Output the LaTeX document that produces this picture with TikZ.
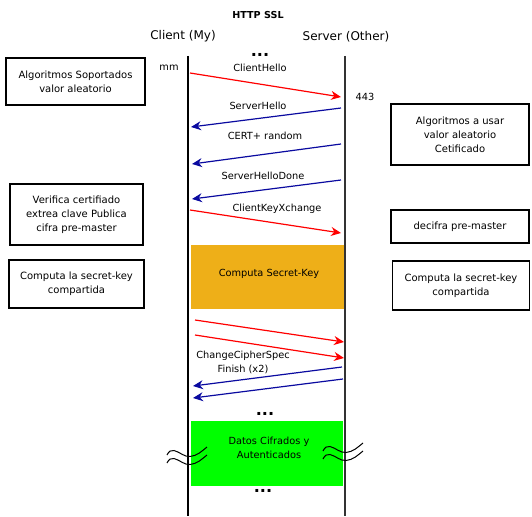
\documentclass[tikz,border=0pt]{standalone}
\usepackage{fontspec}
\setmainfont{DejaVu Sans}
\usetikzlibrary{positioning,arrows.meta}
\definecolor{msgred}{RGB}{255,0,0}
\definecolor{msgblue}{RGB}{10,10,160}
\definecolor{keyorange}{RGB}{238,175,24}
\definecolor{datagreen}{RGB}{0,255,0}

\begin{document}
\begin{tikzpicture}[x=1pt, y=-1pt,
    note/.style={rectangle, draw, line width=1.5pt, align=center, inner sep=0pt, font=\fontsize{10}{14}\selectfont},
    lbl/.style={inner sep=0pt, align=center, font=\fontsize{9.8}{14}\selectfont},
    dots/.style={inner sep=0pt, font=\bfseries\fontsize{16}{16}\selectfont},
    phase/.style={rectangle, fill=#1, inner sep=0pt, align=center},
    tosrv/.style={msgred, line width=1.2pt, -{Stealth[length=10pt, width=9pt]}},
    tocli/.style={msgblue, line width=1.2pt, -{Stealth[length=10pt, width=9pt]}}
]
    \useasboundingbox (0,0) rectangle (532,516);

    % titles
    \node[inner sep=0pt, font=\bfseries\fontsize{9.6}{11}\selectfont] (title) at (258,15) {HTTP SSL};
    \node[inner sep=0pt, font=\fontsize{12}{14}\selectfont] (client) at (183,36) {Client (My)};
    \node[inner sep=0pt, font=\fontsize{12}{14}\selectfont] (server) at (346,37) {Server (Other)};
    \node[dots] (dots1) at (260,55) {...};

    % lifelines
    \coordinate (ctop) at (188,56);
    \coordinate (cbot) at (188,516);
    \coordinate (stop) at (345,56);
    \coordinate (sbot) at (345,516);
    \draw[line width=2pt] (ctop) -- (cbot);
    \draw[line width=1.2pt, black!80] (stop) -- (sbot);

    % phases
    \node[phase=keyorange, minimum width=153pt, minimum height=64pt] (secret) at (267.5,277) {};
    \node[lbl] at (269,274) {Computa Secret-Key};
    \node[phase=datagreen, minimum width=152pt, minimum height=65pt] (data) at (267,453.5) {};
    \node[lbl] at (269,448) {Datos Cifrados y\\Autenticados};

    % notes
    \node[note, minimum width=139pt, minimum height=47pt] (alg) at (75.5,81.5) {Algoritmos Soportados\\valor aleatorio};
    \node[note, minimum width=138pt, minimum height=61pt] (usar) at (460,134.5) {Algoritmos a usar\\valor aleatorio\\Cetificado};
    \node[note, minimum width=133pt, minimum height=61pt] (verif) at (76.5,214.5) {Verifica certifiado\\extrea clave Publica\\cifra pre-master};
    \node[note, minimum width=138pt, minimum height=33pt] (decif) at (460,226.5) {decifra pre-master};
    \node[note, minimum width=135pt, minimum height=48pt] (compc) at (76.5,284) {Computa la secret-key\\compartida};
    \node[note, minimum width=137pt, minimum height=49pt] (comps) at (461,285.5) {Computa la secret-key\\compartida};

    % messages
    \coordinate (ch1) at (190,73);  \coordinate (ch2) at (341,97);
    \coordinate (sh1) at (341,108); \coordinate (sh2) at (191,127);
    \coordinate (ce1) at (341,144); \coordinate (ce2) at (192,164);
    \coordinate (sd1) at (341,180); \coordinate (sd2) at (192,199);
    \coordinate (kx1) at (190,210); \coordinate (kx2) at (341,233);
    \coordinate (fa1) at (195,320); \coordinate (fa2) at (344,342);
    \coordinate (fb1) at (195,335); \coordinate (fb2) at (344,358);
    \coordinate (fc1) at (342,367); \coordinate (fc2) at (193,386);
    \coordinate (fd1) at (343,379); \coordinate (fd2) at (193,398);

    \foreach \from/\to in {ch1/ch2, kx1/kx2, fa1/fa2, fb1/fb2}
        \draw[tosrv] (\from) -- (\to);
    \foreach \from/\to in {sh1/sh2, ce1/ce2, sd1/sd2, fc1/fc2, fd1/fd2}
        \draw[tocli] (\from) -- (\to);

    \node[lbl] (lch) at (260,68) {ClientHello};
    \node[lbl] (lsh) at (258,106) {ServerHello};
    \node[lbl] (lce) at (265,136) {CERT+ random};
    \node[lbl] (lsd) at (263,176) {ServerHelloDone};
    \node[lbl] (lkx) at (277,209) {ClientKeyXchange};
    \node[lbl] (lfin) at (243,362) {ChangeCipherSpec\\Finish (x2)};
    \node[lbl] (port) at (365,97) {443};
    \node[lbl] (mm) at (169,68) {mm};

    \node[dots] (dots2) at (265,414) {...};
    \node[dots] (dots3) at (263,491) {...};

    % breaks
    \foreach \wx/\wy in {167/455, 323/451}
        \foreach \d in {0,8}
            \draw[line width=1pt, shift={(\wx,\wy+\d)}] (0,0) .. controls (2,-4) and (4,-5) .. (7,-4.5)
                .. controls (13,-3) and (17,2) .. (23,1.5) .. controls (30,1) and (35,-4) .. (40,-8);
\end{tikzpicture}
\end{document}
